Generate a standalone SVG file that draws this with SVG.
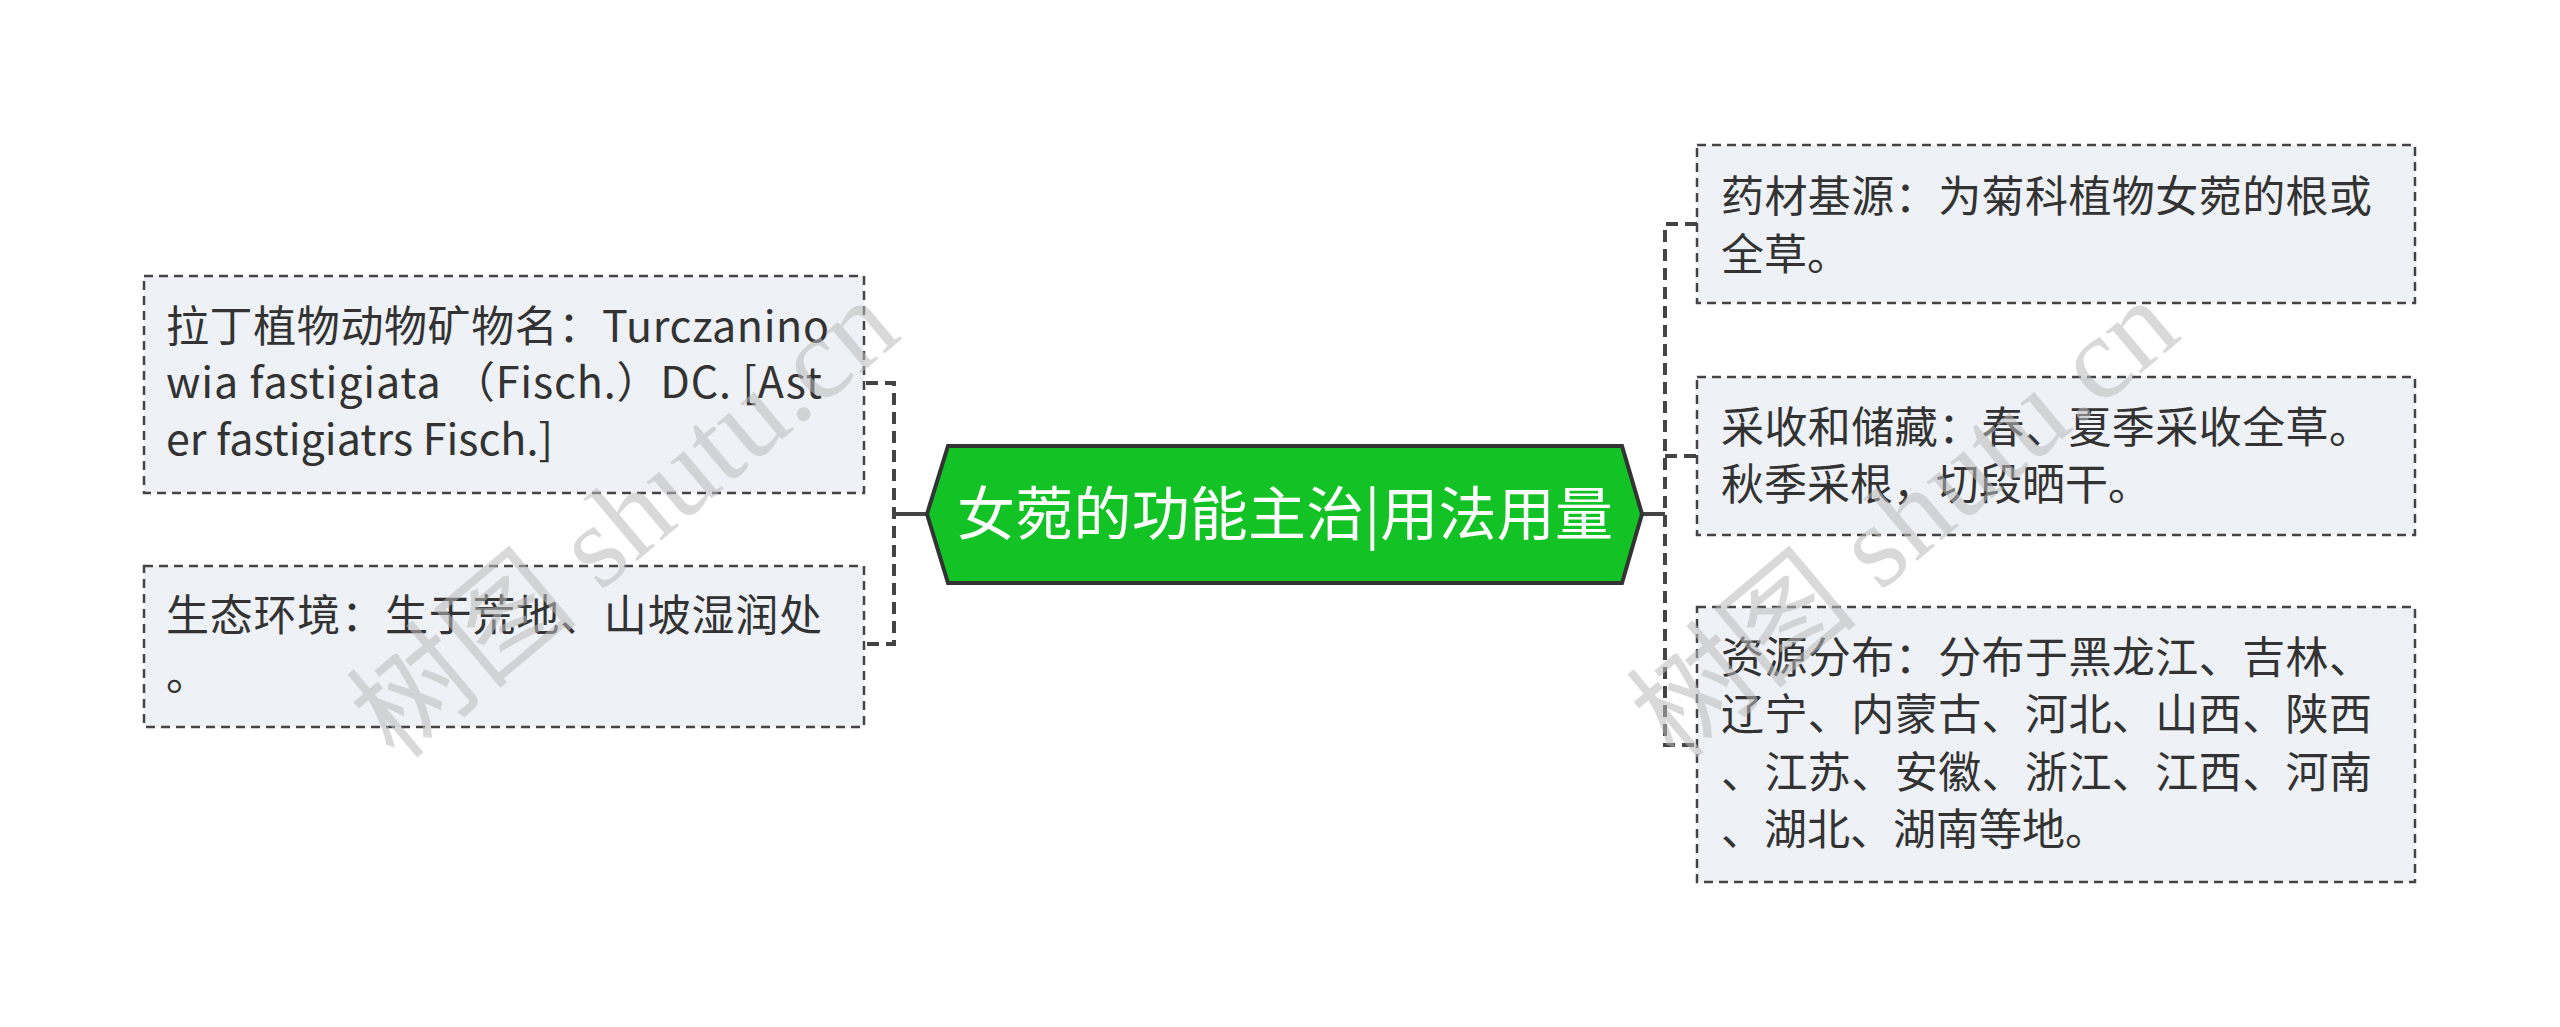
<svg xmlns="http://www.w3.org/2000/svg" width="2560" height="1027" viewBox="0 0 2560 1027">
<style>
.box{fill:#eef1f5;stroke:#444;stroke-width:2.5;stroke-dasharray:9,6}
.t{font-family:"Noto Sans CJK SC","Noto Sans",sans-serif;font-size:43px;fill:#333}
.c{fill:none;stroke:#444;stroke-width:4;stroke-dasharray:12,7}
.wm{font-family:"Liberation Serif","Noto Sans CJK SC",serif;font-size:118px;fill:#bbb;opacity:0.55}
</style>
<rect width="2560" height="1027" fill="#fff"/>
<g id="connectors">
<path class="c" d="M866 383H894V644H866"/>
<path d="M894 514H927" stroke="#444" stroke-width="4"/>
<path class="c" d="M1697 224H1665V745H1697M1665 456H1697"/>
<path d="M1639 514H1665" stroke="#444" stroke-width="4"/>
</g>
<g id="center">
<polygon points="927,514 948,446 1622,446 1642,514 1622,583 948,583" fill="#13c225" stroke="#333" stroke-width="4"/>
<text x="1285" y="535" text-anchor="middle" font-family="'Noto Sans CJK SC',sans-serif" font-size="58" fill="#fff" textLength="656">女菀的功能主治|用法用量</text>
</g>
<g id="l1">
<rect class="box" x="144" y="276" width="720" height="217"/>
<text class="t" x="166" y="342" textLength="663">拉丁植物动物矿物名：Turczanino</text>
<text class="t" x="166" y="398" textLength="656">wia fastigiata （Fisch.）DC. [Ast</text>
<text class="t" x="166" y="455">er fastigiatrs Fisch.]</text>
</g>
<g id="l2">
<rect class="box" x="144" y="566" width="720" height="161"/>
<text class="t" x="166" y="631" textLength="656">生态环境：生于荒地、山坡湿润处</text>
<text class="t" x="166" y="690">。</text>
</g>
<g id="r1">
<rect class="box" x="1697" y="145" width="718" height="158"/>
<text class="t" x="1721" y="212" textLength="651">药材基源：为菊科植物女菀的根或</text>
<text class="t" x="1721" y="270">全草。</text>
</g>
<g id="r2">
<rect class="box" x="1697" y="377" width="718" height="158"/>
<text class="t" x="1721" y="443" textLength="651">采收和储藏：春、夏季采收全草。</text>
<text class="t" x="1721" y="500">秋季采根，切段晒干。</text>
</g>
<g id="r3">
<rect class="box" x="1697" y="607" width="718" height="275"/>
<text class="t" x="1721" y="673" textLength="651">资源分布：分布于黑龙江、吉林、</text>
<text class="t" x="1721" y="730" textLength="651">辽宁、内蒙古、河北、山西、陕西</text>
<text class="t" x="1721" y="788" textLength="651">、江苏、安徽、浙江、江西、河南</text>
<text class="t" x="1721" y="845">、湖北、湖南等地。</text>
</g>
<g id="watermark">
<text class="wm" transform="translate(650,550) rotate(-40)" text-anchor="middle">树图 shutu.cn</text>
<text class="wm" transform="translate(1930,550) rotate(-40)" text-anchor="middle">树图 shutu.cn</text>
</g>
</svg>
